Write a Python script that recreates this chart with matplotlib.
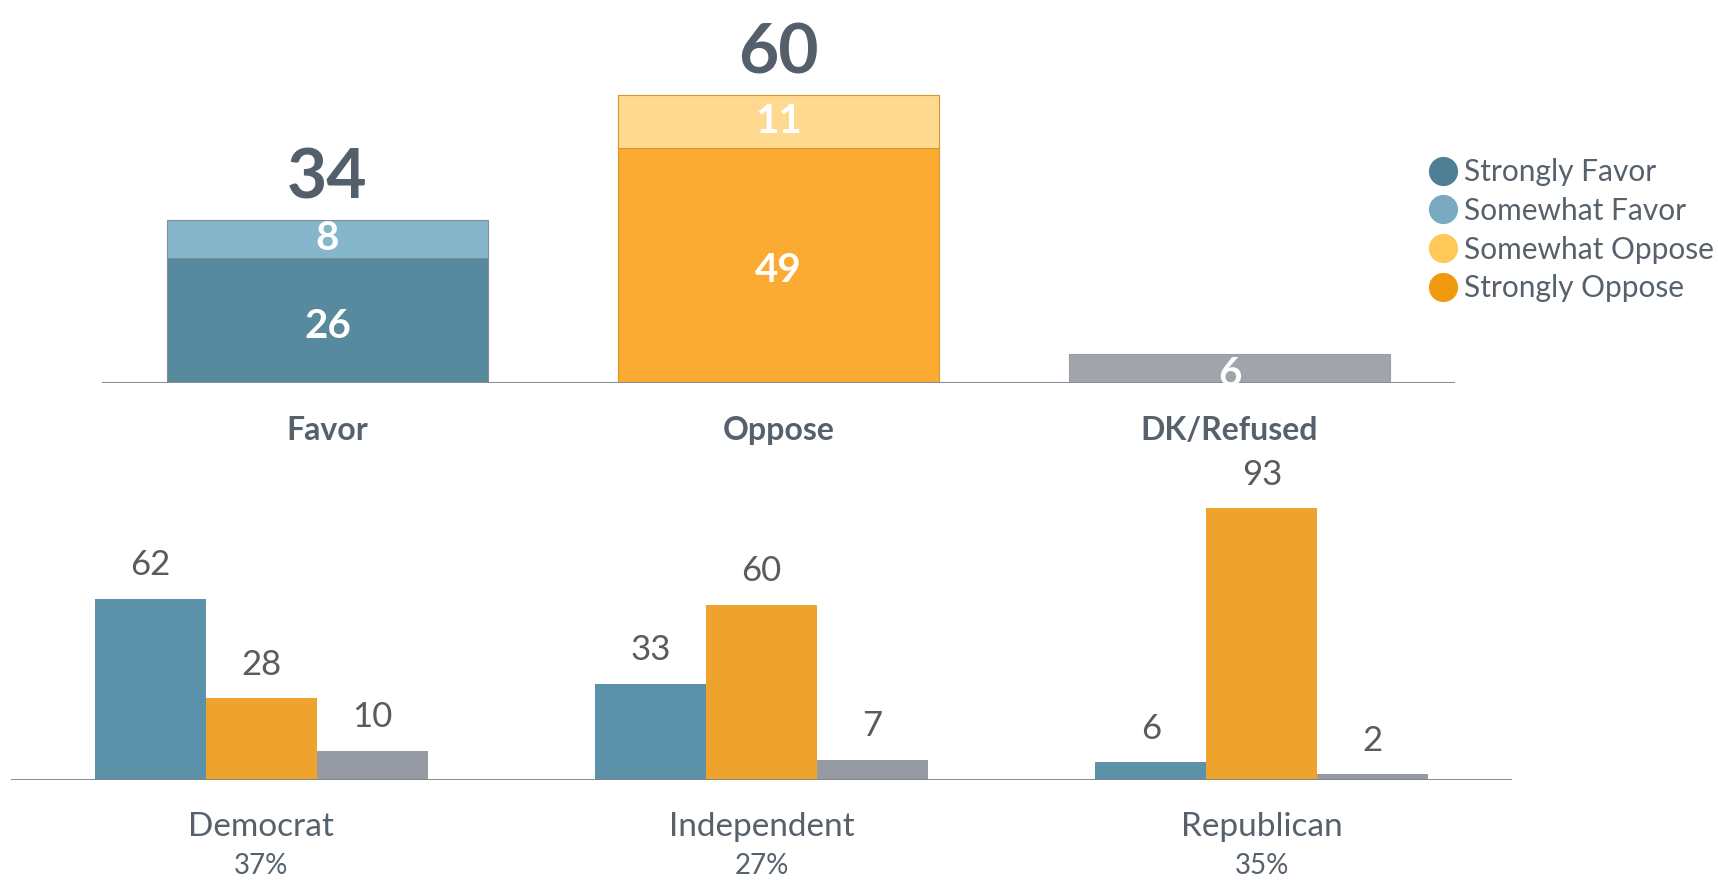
import matplotlib
matplotlib.use("Agg")
import matplotlib.pyplot as plt
from matplotlib.lines import Line2D
import numpy as np

plt.rcParams["font.family"] = ["Lato", "DejaVu Sans"]

# ── data ──────────────────────────────────────────────────────────────────
top_cats = ["Favor", "Oppose", "DK/Refused"]
strong = [26, 49, 6]        # strongly favor / strongly oppose / DK
somewhat = [8, 11, 0]       # somewhat favor / somewhat oppose
totals = [34, 60, 6]

parties = ["Democrat", "Independent", "Republican"]
party_share = ["37%", "27%", "35%"]
party_favor = [62, 33, 6]
party_oppose = [28, 60, 93]
party_dk = [10, 7, 2]

legend_labels = ["Strongly Favor", "Somewhat Favor", "Somewhat Oppose", "Strongly Oppose"]

# ── colours ───────────────────────────────────────────────────────────────
BLUE_D = "#578a9e"
BLUE_L = "#85b6c9"
ORNG_D = "#fbab32"
ORNG_L = "#ffd98f"
GREY = "#a0a4ac"
TXT = "#56616c"
VAL = "#5f5a5a"
LEG = ["#4e7f94", "#7aaabf", "#ffc857", "#f0990f"]

fig = plt.figure(figsize=(17.18, 8.83), dpi=100)
W, H = 1718, 883

# ── top panel: stacked totals ─────────────────────────────────────────────
ax1 = fig.add_axes([102 / W, 1 - 383 / H, 1353 / W, 383 / H])
x = np.arange(len(top_cats))
bw = 0.711
seg_cols = [BLUE_D, ORNG_D, GREY]
top_cols = [BLUE_L, ORNG_L, GREY]
edge_cols = ["#7d8f99", "#d9952a", "#9a9ea6"]
for i in range(len(top_cats)):
    ax1.bar(x[i], strong[i], bw, color=seg_cols[i], edgecolor=edge_cols[i], linewidth=0.8, zorder=2)
    if somewhat[i]:
        ax1.bar(x[i], somewhat[i], bw, bottom=strong[i], color=top_cols[i],
                edgecolor=edge_cols[i], linewidth=0.8, zorder=2)
        ax1.text(x[i], strong[i] + somewhat[i] / 2, str(somewhat[i]), ha="center", va="center",
                 color="white", fontsize=29, fontweight="bold", zorder=4)
    ax1.annotate(str(strong[i]), (x[i], strong[i] / 2), xytext=(0, -4), textcoords="offset points",
                 ha="center", va="center", color="white", fontsize=29, fontweight="bold", zorder=4)
    if somewhat[i]:
        ax1.annotate(str(totals[i]), (x[i], totals[i]), xytext=(0, 7), textcoords="offset points",
                     ha="center", va="bottom", fontsize=50, fontweight="bold", color="#535f6b")
    ax1.annotate(top_cats[i], (x[i], 0), xytext=(0, -34), textcoords="offset points",
                 ha="center", va="center", fontsize=23, fontweight="bold", color=TXT)

ax1.set_xlim(-0.5, 2.5)
ax1.set_ylim(0, 383 / 4.8)
ax1.axhline(0, color="#8a8f96", linewidth=1.5, zorder=3)
ax1.axis("off")

handles = [Line2D([], [], marker="o", linestyle="none", markersize=20,
                  markerfacecolor=c, markeredgecolor=c) for c in LEG]
fig.legend(handles, legend_labels, loc="upper left", bbox_to_anchor=(1430 / W, 1 - 158 / H),
           frameon=False, fontsize=21.5, labelcolor=TXT, handlelength=0.9,
           handletextpad=0.25, labelspacing=0.36, borderpad=0, borderaxespad=0)

# ── bottom panel: by party ────────────────────────────────────────────────
ax2 = fig.add_axes([11 / W, 1 - 780 / H, 1501 / W, 340 / H])
xp = np.arange(len(parties))
pw = 0.222
series = [(party_favor, "#5b91a9", -pw), (party_oppose, "#eea32e", 0), (party_dk, "#959aa3", pw)]
for vals, col, off in series:
    bars = ax2.bar(xp + off, vals, pw, color=col, zorder=2)
    for b, v in zip(bars, vals):
        ax2.annotate(str(v), (b.get_x() + b.get_width() / 2, v), xytext=(0, 17),
                     textcoords="offset points", ha="center", va="baseline",
                     fontsize=25, color=VAL)

for i, (p, s) in enumerate(zip(parties, party_share)):
    ax2.annotate(p, (xp[i], 0), xytext=(0, -34), textcoords="offset points",
                 ha="center", va="center", fontsize=24, color=TXT, annotation_clip=False)
    ax2.annotate(s, (xp[i], 0), xytext=(0, -62), textcoords="offset points",
                 ha="center", va="center", fontsize=20, color=TXT, annotation_clip=False)

ax2.set_xlim(-0.5, 2.5)
ax2.set_ylim(0, 340 / 2.92)
ax2.axhline(0, color="#7d848c", linewidth=1.3, zorder=3)
ax2.axis("off")

fig.savefig("out.png", dpi=100)
